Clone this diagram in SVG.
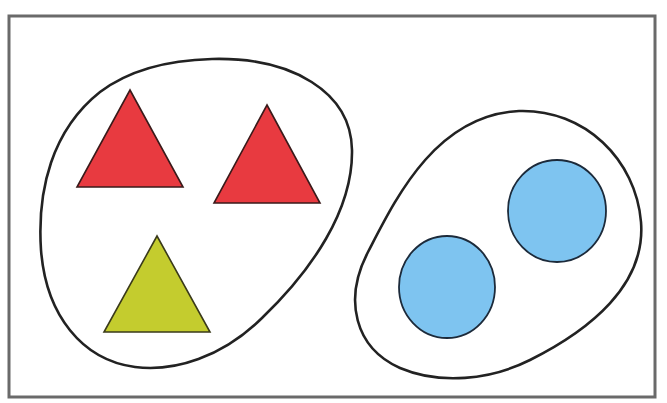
<svg xmlns="http://www.w3.org/2000/svg" width="667" height="403" viewBox="0 0 667 403">
<style>
.blob{fill:none;stroke:#222;stroke-width:2.6}
.tri{stroke:#3a1a1a;stroke-width:1.6;stroke-linejoin:miter}
.red{fill:#e83a40}
.yel{fill:#c4cc2e;stroke:#3a3a1a}
.cir{fill:#7ec4f0;stroke:#1c2a3a;stroke-width:1.8}
</style>
<rect x="0" y="0" width="667" height="403" fill="#ffffff"/>
<rect id="frame" x="9" y="16" width="646" height="381" fill="#ffffff" stroke="#6a6a6a" stroke-width="3"/>
<g id="set-triangles">
<path class="blob" d="M 212,59 C 292,57 351,92 352,150 C 353,210 312,270 262,318 C 222,357 175,372 135,367 C 82,360 46,315 41,250 C 37,190 52,130 100,92 C 132,68 172,60 212,59 Z"/>
<polygon id="tri1" class="tri red" points="130,90 183,187 77,187"/>
<polygon id="tri2" class="tri red" points="267,105 320,203 214,203"/>
<polygon id="tri3" class="tri yel" points="157,236 210,332 104,332"/>
</g>
<g id="set-circles">
<path class="blob" d="M 519,111 C 585,109 636,160 641,222 C 646,285 590,330 530,360 C 490,380 440,385 400,368 C 355,348 343,300 368,252 C 395,200 435,115 519,111 Z"/>
<ellipse id="circle1" class="cir" cx="447" cy="287" rx="48" ry="51"/>
<ellipse id="circle2" class="cir" cx="557" cy="211" rx="49" ry="51"/>
</g>
</svg>
